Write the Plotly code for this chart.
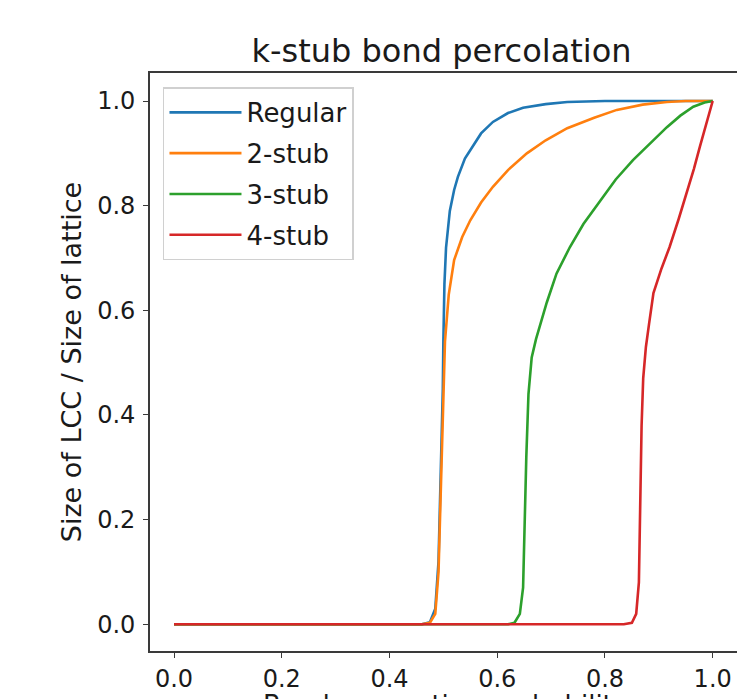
import plotly.graph_objects as go

# ---- data ----
regular_p = [0.0, 0.46, 0.475, 0.485, 0.491, 0.496, 0.499, 0.500, 0.502, 0.505, 0.512, 0.520, 0.527,
             0.540, 0.553, 0.570, 0.592, 0.620, 0.648, 0.690, 0.730, 0.800, 1.0]
regular_v = [0.0, 0.0, 0.004, 0.03, 0.12, 0.30, 0.45, 0.54, 0.65, 0.72, 0.79, 0.83, 0.855,
             0.89, 0.912, 0.938, 0.960, 0.977, 0.987, 0.994, 0.998, 1.0, 1.0]

stub2_p = [0.0, 0.46, 0.475, 0.485, 0.491, 0.496, 0.500, 0.503, 0.510, 0.520, 0.535, 0.550, 0.570,
           0.592, 0.620, 0.655, 0.690, 0.730, 0.780, 0.822, 0.870, 0.915, 0.950, 1.0]
stub2_v = [0.0, 0.0, 0.003, 0.02, 0.10, 0.30, 0.45, 0.54, 0.63, 0.696, 0.74, 0.772, 0.806,
           0.836, 0.868, 0.900, 0.925, 0.948, 0.968, 0.983, 0.993, 0.998, 1.0, 1.0]

stub3_p = [0.0, 0.620, 0.632, 0.642, 0.648, 0.651, 0.654, 0.658, 0.664, 0.672, 0.681, 0.692, 0.710,
           0.735, 0.760, 0.791, 0.820, 0.852, 0.885, 0.915, 0.940, 0.964, 0.985, 1.0]
stub3_v = [0.0, 0.0, 0.003, 0.02, 0.07, 0.20, 0.32, 0.44, 0.51, 0.545, 0.575, 0.615, 0.670,
           0.721, 0.765, 0.810, 0.850, 0.887, 0.920, 0.950, 0.972, 0.989, 0.997, 1.0]

stub4_p = [0.0, 0.835, 0.850, 0.858, 0.863, 0.866, 0.868, 0.871, 0.876, 0.882, 0.890, 0.905, 0.920,
           0.937, 0.952, 0.965, 0.976, 0.988, 1.0]
stub4_v = [0.0, 0.0, 0.003, 0.02, 0.08, 0.25, 0.38, 0.47, 0.53, 0.575, 0.633, 0.68, 0.721,
           0.775, 0.824, 0.870, 0.912, 0.956, 1.0]

series = [
    ("Regular", regular_p, regular_v, "#1f77b4"),
    ("2-stub", stub2_p, stub2_v, "#ff7f0e"),
    ("3-stub", stub3_p, stub3_v, "#2ca02c"),
    ("4-stub", stub4_p, stub4_v, "#d62728"),
]

tick_vals = [0.0, 0.2, 0.4, 0.6, 0.8, 1.0]
tick_text = ["0.0", "0.2", "0.4", "0.6", "0.8", "1.0"]

FONT = "DejaVu Sans"
AXC = "#3a3a3a"
W, H = 737, 691  # page body has an 8px margin

fig = go.Figure()
for i, (name, p, v, c) in enumerate(series):
    fig.add_trace(go.Scatter(x=p, y=v, mode="lines", name=name, legendgroup=str(i),
                             line=dict(color=c, width=2.6)))

fig.update_layout(
    width=W, height=H,
    margin=dict(l=142, r=5, t=65, b=48, autoexpand=False),
    paper_bgcolor="white", plot_bgcolor="white",
    font=dict(family=FONT, color="#1a1a1a", size=24),
    title=dict(text="k-stub bond percolation", x=433.5 / W, xanchor="center",
               y=1 - 54 / H, yanchor="bottom", yref="container",
               font=dict(family=FONT, size=32, color="#1a1a1a")),
    showlegend=True,
    legend=dict(x=0.022, y=0.975, xanchor="left", yanchor="top",
                bgcolor="rgba(255,255,255,0.9)", bordercolor="#d0d0d0", borderwidth=1.5,
                font=dict(family=FONT, size=26, color="#1a1a1a"),
                tracegroupgap=4, traceorder="grouped", itemwidth=72),
)

fig.update_xaxes(range=[-0.0446, 1.0507], tickvals=tick_vals, ticktext=tick_text,
                 showgrid=False, zeroline=False, showline=True, mirror=True,
                 linecolor=AXC, linewidth=1.6, ticks="outside", ticklen=5, tickwidth=1.3,
                 tickcolor=AXC, ticklabelstandoff=0,
                 tickfont=dict(family=FONT, size=24, color="#1a1a1a"))
fig.update_yaxes(range=[-0.051, 1.0535], tickvals=tick_vals, ticktext=tick_text,
                 showgrid=False, zeroline=False, showline=True, mirror=True,
                 linecolor=AXC, linewidth=1.6, ticks="outside", ticklen=5, tickwidth=1.3,
                 tickcolor=AXC, ticklabelstandoff=3,
                 tickfont=dict(family=FONT, size=24, color="#1a1a1a"),
                 title=dict(text="Size of LCC / Size of lattice", standoff=8,
                            font=dict(family=FONT, size=27, color="#1a1a1a")))

fig.add_annotation(text="Bond occupation probability", xref="paper", yref="paper",
                   x=0.5, y=(643 - 680) / 578, xanchor="center", yanchor="top",
                   showarrow=False, font=dict(family=FONT, size=26, color="#1a1a1a"))

fig.write_html("out.html")
